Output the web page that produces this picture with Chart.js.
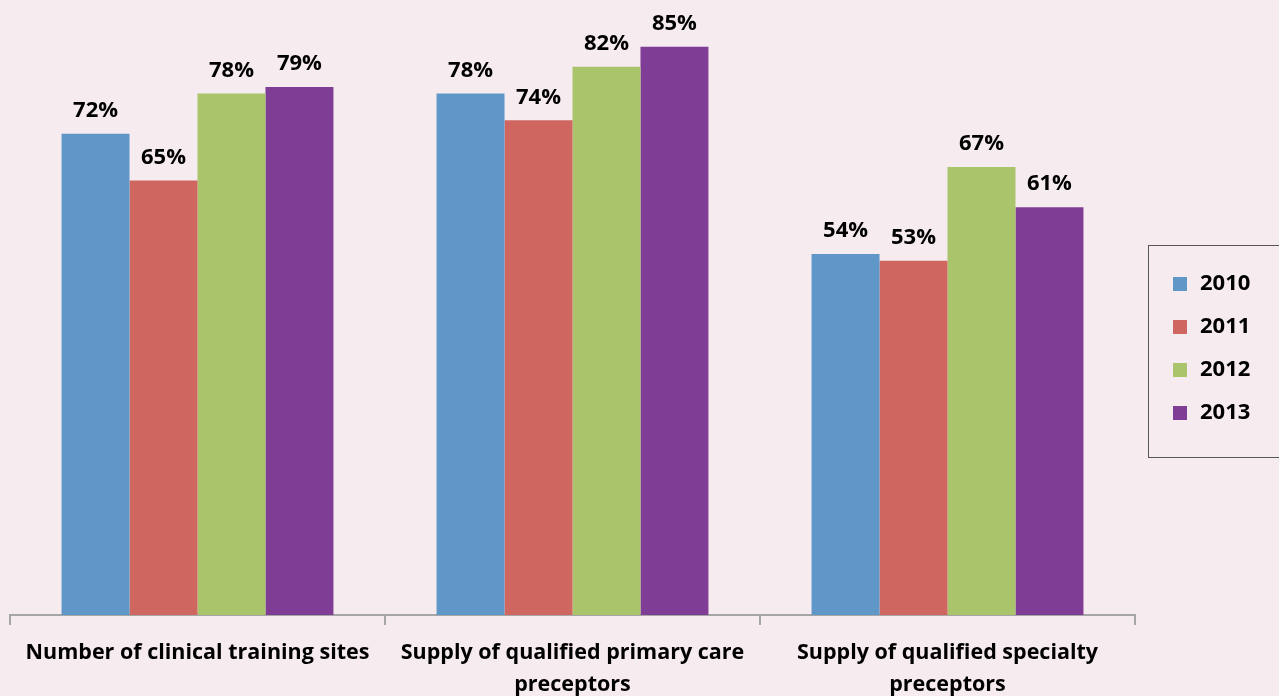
<!DOCTYPE html>
<html>
<head>
<meta charset="utf-8">
<script src="https://cdn.jsdelivr.net/npm/chart.js@4"></script>
<style>
  html, body { margin: 0; padding: 0; background: #f6ebef; }
  #wrap { width: 1279px; height: 696px; }
</style>
</head>
<body>
<div id="wrap"><canvas id="myChart" width="1279" height="696"></canvas></div>
<script>
// data
const categories = [
  ['Number of clinical training sites'],
  ['Supply of qualified primary care', 'preceptors'],
  ['Supply of qualified specialty', 'preceptors']
];
const years = ['2010', '2011', '2012', '2013'];
const values2010 = [72, 78, 54];
const values2011 = [65, 74, 53];
const values2012 = [78, 82, 67];
const values2013 = [79, 85, 61];
const colors = ['#6097c9', '#cf6760', '#aac46b', '#7f3d95'];

const FONT = '"Open Sans", "DejaVu Sans", sans-serif';

// labels above bars
const barLabels = {
  id: 'barLabels',
  afterDatasetsDraw(chart) {
    const ctx = chart.ctx;
    ctx.save();
    ctx.font = 'bold 22px ' + FONT;
    ctx.fillStyle = '#000';
    ctx.textAlign = 'center';
    ctx.textBaseline = 'middle';
    chart.data.datasets.forEach((ds, i) => {
      chart.getDatasetMeta(i).data.forEach((bar, j) => {
        ctx.fillText(ds.data[j] + '%', bar.x, bar.y - 23);
      });
    });
    ctx.restore();
  }
};

// legend box on the right
const boxLegend = {
  id: 'boxLegend',
  afterDraw(chart) {
    const ctx = chart.ctx;
    ctx.save();
    ctx.strokeStyle = '#555';
    ctx.lineWidth = 1;
    ctx.strokeRect(1148.5, 245.5, 140, 212);
    ctx.font = 'bold 22px ' + FONT;
    ctx.textBaseline = 'middle';
    ctx.textAlign = 'left';
    chart.data.datasets.forEach((ds, i) => {
      const y = 284 + i * 43;
      ctx.fillStyle = ds.backgroundColor;
      ctx.fillRect(1173, y - 7, 14, 14);
      ctx.fillStyle = '#000';
      ctx.fillText(ds.label, 1200, y);
    });
    ctx.restore();
  }
};

const data = {
  labels: categories,
  datasets: [
    { label: years[0], data: values2010, backgroundColor: colors[0] },
    { label: years[1], data: values2011, backgroundColor: colors[1] },
    { label: years[2], data: values2012, backgroundColor: colors[2] },
    { label: years[3], data: values2013, backgroundColor: colors[3] }
  ]
};

const config = {
  type: 'bar',
  data: data,
  options: {
    responsive: false,
    animation: false,
    layout: { padding: { left: 10, right: 144, top: 0, bottom: 0 } },
    datasets: { bar: { categoryPercentage: 0.725, barPercentage: 1.0 } },
    plugins: {
      legend: { display: false },
      tooltip: { enabled: false }
    },
    scales: {
      x: {
        afterFit(scale) { scale.height = 81; },
        grid: {
          drawOnChartArea: false,
          drawTicks: true,
          tickLength: 10,
          color: '#a6a6a6',
          lineWidth: 2
        },
        border: { color: '#a6a6a6', width: 2 },
        ticks: {
          color: '#000',
          padding: 12,
          maxRotation: 0,
          font: { family: FONT, size: 21.5, weight: 'bold', lineHeight: 1.48 }
        }
      },
      y: {
        display: false,
        min: 0,
        max: 92
      }
    }
  },
  plugins: [barLabels, boxLegend]
};

const myChart = new Chart(document.getElementById('myChart'), config);
</script>
</body>
</html>
